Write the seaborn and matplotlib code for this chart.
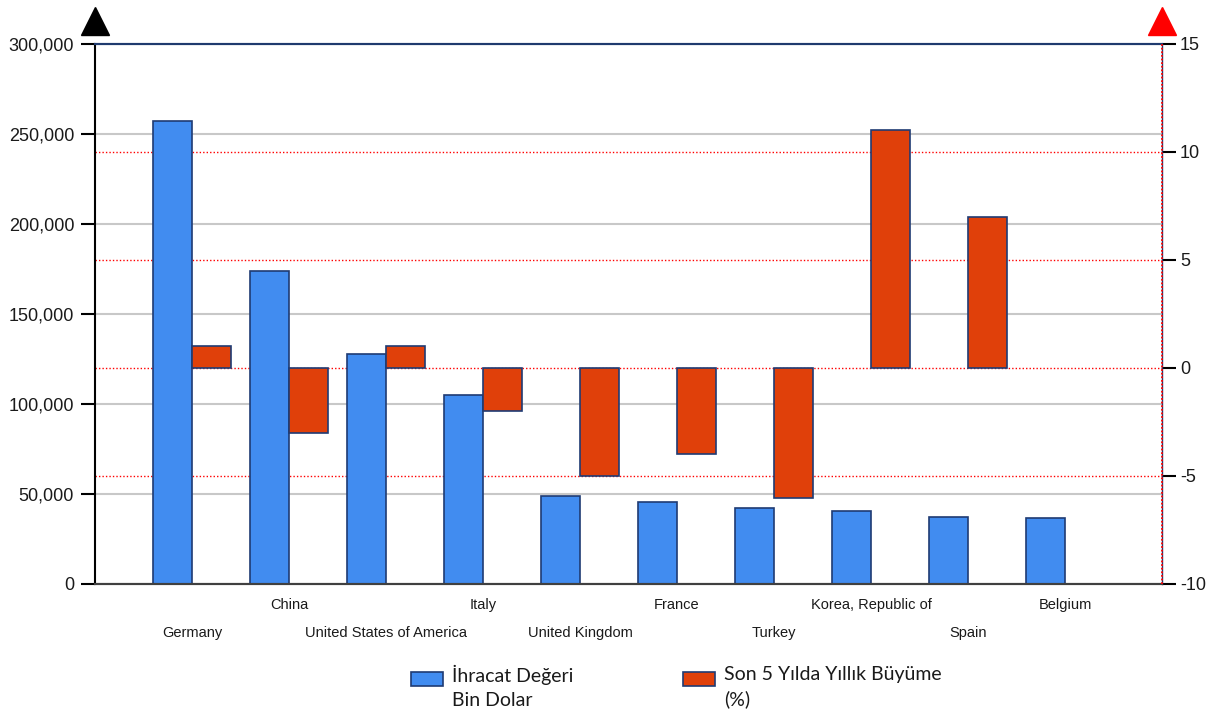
import matplotlib
matplotlib.use("Agg")
import matplotlib.pyplot as plt
import matplotlib.patches as mpatches
from matplotlib.legend_handler import HandlerPatch
import numpy as np
import pandas as pd
import seaborn as sns
from matplotlib.ticker import FuncFormatter, FixedLocator

# ---- data -------------------------------------------------------------
countries = ["Germany", "China", "United States of America", "Italy",
             "United Kingdom", "France", "Turkey", "Korea, Republic of",
             "Spain", "Belgium"]
export_value = [257000, 174000, 128000, 105000, 49000, 45500, 42000,
                40500, 37000, 36500]
growth_pct = [1, -3, 1, -2, -5, -4, -6, 11, 7, np.nan]

label_export = "İhracat Değeri\nBin Dolar"
label_growth = "Son 5 Yılda Yıllık Büyüme\n(%)"

left_ticks = [0, 50000, 100000, 150000, 200000, 250000, 300000]
right_ticks = [-10, -5, 0, 5, 10, 15]

# ---- style ------------------------------------------------------------
sns.set_style("white")
plt.rcParams["font.family"] = ["Liberation Sans", "DejaVu Sans"]
plt.rcParams["axes.unicode_minus"] = False

blue = "#418CF0"
red = "#E0400A"
edge = "#1F3B73"
navy = "#1F3A6E"

n = len(countries)
nan_list = [np.nan] * n
series = [label_export] * n + [label_growth] * n
df_export = pd.DataFrame({"country": countries * 2, "series": series,
                          "value": list(export_value) + nan_list})
df_growth = pd.DataFrame({"country": countries * 2, "series": series,
                          "value": nan_list + list(growth_pct)})

fig = plt.figure(figsize=(12.15, 7.2), dpi=100)
ax1 = fig.add_subplot(111)
fig.subplots_adjust(left=0.0782, right=0.9564, top=0.9389, bottom=0.1889)
ax2 = ax1.twinx()

palette = {label_export: blue, label_growth: red}
bar_kw = dict(x="country", y="value", hue="series",
              hue_order=[label_export, label_growth], order=countries,
              palette=palette, saturation=1, errorbar=None, width=0.8,
              dodge=True, edgecolor=edge, linewidth=1.2, legend=False)
sns.barplot(data=df_export, ax=ax1, **bar_kw)
sns.barplot(data=df_growth, ax=ax2, **bar_kw)

ax1.set_xlim(-1, n)
ax1.set_ylim(left_ticks[0], left_ticks[-1])
ax2.set_ylim(right_ticks[0], right_ticks[-1])
ax1.set_xlabel("")
ax1.set_ylabel("")
ax2.set_ylabel("")

# left axis ticks and solid gray grid
ax1.yaxis.set_major_locator(FixedLocator(left_ticks))
ax1.yaxis.set_major_formatter(FuncFormatter(lambda v, p: f"{int(v):,}"))
ax1.grid(axis="y", which="major", color="#C8C8C8", linewidth=1.5)

# right-axis gridlines (red dotted) placed on the left scale so they sit behind the bars
lo, hi = right_ticks[0], right_ticks[-1]
span = left_ticks[-1] - left_ticks[0]
red_grid = [left_ticks[0] + (t - lo) / (hi - lo) * span for t in right_ticks[1:-1]]
ax1.yaxis.set_minor_locator(FixedLocator(red_grid))
ax1.grid(axis="y", which="minor", color="red", linestyle=(0, (1, 1.5)), linewidth=1.0)
ax1.tick_params(axis="y", which="minor", length=0)
ax1.set_axisbelow(True)

ax2.yaxis.set_major_locator(FixedLocator(right_ticks))
ax2.grid(False)

ax1.tick_params(axis="y", which="major", direction="out", length=10, width=1.5,
                color="black", pad=5, labelsize=13, labelcolor="#1a1a1a", left=True)
ax2.tick_params(axis="y", which="major", direction="out", length=10, width=1.5,
                color="black", pad=3, labelsize=13, labelcolor="#1a1a1a", right=True)

# staggered category labels
ax1.set_xticks(range(n))
ax1.set_xticklabels(countries, fontsize=10.5, color="#1a1a1a")
ax1.tick_params(axis="x", length=0)
for i, tick in enumerate(ax1.xaxis.get_major_ticks()):
    tick.set_pad(30 if i % 2 == 0 else 10)

# spines
for ax in (ax1, ax2):
    ax.spines["top"].set_color(navy)
    ax.spines["top"].set_linewidth(1.5)
    ax.spines["bottom"].set_color("#404040")
    ax.spines["bottom"].set_linewidth(1.5)
ax1.spines["left"].set_color("black")
ax1.spines["left"].set_linewidth(1.5)
ax2.spines["left"].set_visible(False)
ax1.spines["right"].set_visible(False)
ax2.spines["right"].set_color(navy)
ax2.spines["right"].set_linewidth(1.0)
ax2.plot([1, 1], [0, 1], transform=ax2.transAxes, color="red",
         linestyle=(0, (1, 1)), linewidth=1.3, clip_on=False, zorder=10)

# arrowheads on the axis tops
ax1.plot([0], [1.042], marker="^", markersize=20, color="black",
         transform=ax1.transAxes, clip_on=False)
ax2.plot([1], [1.042], marker="^", markersize=20, color="red",
         transform=ax2.transAxes, clip_on=False)


# legend: swatch aligned with the first line of each two-line label
def top_swatch(legend, orig_handle, xdescent, ydescent, width, height, fontsize):
    h = 0.72 * fontsize
    return mpatches.Rectangle((-xdescent, -ydescent + height - h), width, h)


handles = [mpatches.Patch(facecolor=blue, edgecolor=edge, linewidth=1.2),
           mpatches.Patch(facecolor=red, edgecolor=edge, linewidth=1.2)]
leg = fig.legend(handles, [label_export, label_growth], loc="upper left",
                 bbox_to_anchor=(0.3383, 0.076), ncol=2, frameon=False,
                 prop={"family": "Lato", "size": 14}, handlelength=1.65,
                 handleheight=2.2, handletextpad=0.46, columnspacing=5.65,
                 borderpad=0, borderaxespad=0,
                 handler_map={mpatches.Patch: HandlerPatch(patch_func=top_swatch)})
for t in leg.get_texts():
    t.set_color("#1a1a1a")
    t.set_linespacing(1.5)

fig.savefig("out.png", dpi=100)
